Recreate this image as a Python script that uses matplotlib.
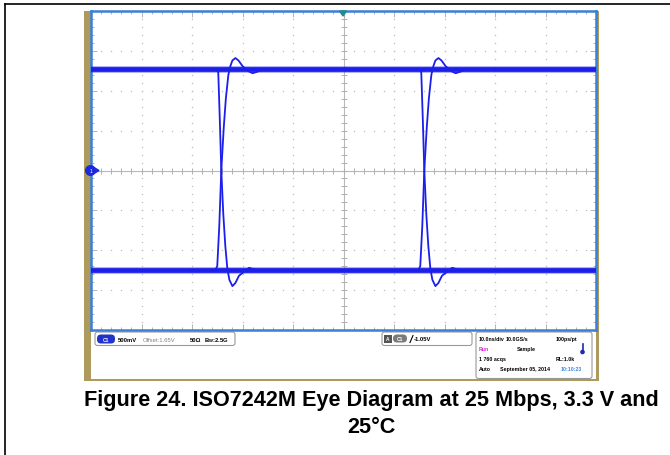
import matplotlib
matplotlib.use('Agg')
import matplotlib.pyplot as plt
from matplotlib.patches import Rectangle, FancyBboxPatch, Circle, Polygon
from matplotlib.ticker import MultipleLocator
import numpy as np

plt.rcParams['font.family'] = ['Liberation Sans', 'DejaVu Sans']

# Eye diagram values read from the scope shot (time in ns, voltage in V)
tCross = [25.8, 66.0]          # edge crossing times
vHigh = 2.92
vLow = 0.40
# rising edge shape, time relative to crossing
riseT = [-1.2, -0.8, -0.4, 0.0, 0.5, 0.9, 1.4, 1.8, 2.2, 2.8, 3.4, 4.2, 5.2, 6.2, 7.2, 8.2]
riseV = [0.40, 0.45, 0.95, 1.65, 2.20, 2.55, 2.85, 2.96, 3.03, 3.06, 3.03, 2.96, 2.90, 2.87, 2.89, 2.92]
# falling edge shape, time relative to crossing
fallT = [-1.0, -0.6, -0.3, 0.0, 0.4, 0.8, 1.2, 1.6, 2.2, 2.8, 3.5, 4.5, 5.5, 6.5, 7.5]
fallV = [2.92, 2.88, 2.30, 1.65, 1.10, 0.70, 0.42, 0.28, 0.20, 0.24, 0.33, 0.38, 0.43, 0.41, 0.40]

# scope settings
voltsPerDiv = 0.5
offset = 1.65
nsPerDiv = 10.0
nDivX = 10
nDivY = 8

traceColor = '#1C1EEA'
frameBlue = '#3A7FD8'
tan = '#AD9A5C'
gridGray = '#BDBDBD'

fig = plt.figure(figsize=(6.7, 4.56), dpi=100)

# background layer in pixel coordinates
bg = fig.add_axes([0, 0, 1, 1])
bg.set_xlim(0, 670)
bg.set_ylim(456, 0)
bg.axis('off')
bg.set_zorder(0)

# outer frame of the page (top and left only)
bg.plot([5, 5], [5, 456], color='black', lw=1.2)
bg.plot([5, 670], [5, 5], color='black', lw=1.2)

# scope screenshot border
bg.add_patch(Rectangle((84, 12), 7, 370, color=tan, lw=0))
bg.add_patch(Rectangle((596, 12), 2.5, 370, color=tan, lw=0))
bg.add_patch(Rectangle((84, 380), 514.5, 2, color=tan, lw=0))

# status bar boxes
def box(x0, y0, x1, y1):
    bg.add_patch(FancyBboxPatch((x0, y0), x1 - x0, y1 - y0,
                                boxstyle='round,pad=0,rounding_size=2.5',
                                fc='white', ec='#9A9A9A', lw=0.8))

def pill(x0, y0, w, h, color, label):
    bg.add_patch(FancyBboxPatch((x0, y0), w, h, boxstyle='round,pad=0,rounding_size=4',
                                fc=color, ec='none'))
    bg.text(x0 + w / 2, y0 + h / 2 + 0.3, label, color='white', fontsize=3.5,
            fontweight='bold', ha='center', va='center')

fs = 4.2
fsR = 3.8
box(95, 333, 235, 346.5)
pill(97, 335.5, 18, 9, '#2233CC', 'C1')
bg.text(118, 340.5, '500mV', fontsize=fs, fontweight='bold', va='center')
bg.text(143, 340.5, 'Offset:1.65V', fontsize=fs, color='#808080', va='center')
bg.text(190, 340.5, '50Ω', fontsize=fs, fontweight='bold', va='center')
bg.text(204, 340.5, r'B$_\mathregular{W}$:2.5G', fontsize=fs, fontweight='bold', va='center')

box(382, 333, 472, 346.5)
bg.add_patch(Rectangle((384, 335.5), 7.5, 8, fc='#555555', ec='none'))
bg.text(387.7, 339.7, 'A', fontsize=3.5, color='white', fontweight='bold', ha='center', va='center')
pill(393, 335.5, 14, 8, '#7A7A7A', 'C1')
bg.plot([410, 413], [343.5, 336.5], color='black', lw=0.8)
bg.text(413.5, 340, '-1.05V', fontsize=fs, fontweight='bold', va='center')

box(476, 333, 592, 379.5)
bg.text(479, 340, '10.0ns/div', fontsize=fsR, fontweight='bold', va='center')
bg.text(506, 340, '10.0GS/s', fontsize=fsR, fontweight='bold', va='center')
bg.text(556, 340, '100ps/pt', fontsize=fsR, fontweight='bold', va='center')
bg.text(479, 349.5, 'Run', fontsize=fsR, fontweight='bold', color='#E020E0', va='center')
bg.text(517, 349.5, 'Sample', fontsize=fsR, fontweight='bold', va='center')
bg.plot([582.5, 582.5], [345, 352], color='#1A2FB0', lw=1.2)
bg.add_patch(Circle((582.5, 353), 1.6, color='#1A2FB0'))
bg.text(479, 359.5, '1 760 acqs', fontsize=fsR, fontweight='bold', va='center')
bg.text(556, 359.5, 'RL:1.0k', fontsize=fsR, fontweight='bold', va='center')
bg.text(479, 370, 'Auto', fontsize=fsR, fontweight='bold', va='center')
bg.text(500, 370, 'September 05, 2014', fontsize=fsR, fontweight='bold', va='center')
bg.text(561, 370, '10:10:23', fontsize=fsR, fontweight='bold', color='#3A8AE0', va='center')

# caption
bg.text(371, 401, 'Figure 24. ISO7242M Eye Diagram at 25 Mbps, 3.3 V and',
        fontsize=15.6, fontweight='bold', ha='center', va='center')
bg.text(371, 428, '25°C', fontsize=15.6, fontweight='bold', ha='center', va='center')

# scope graticule
ax = fig.add_axes([91 / 670, 1 - 331 / 456, (596 - 91) / 670, (331 - 12) / 456])
ax.set_zorder(1)
xMax = nsPerDiv * nDivX
yMin = offset - voltsPerDiv * nDivY / 2
yMax = offset + voltsPerDiv * nDivY / 2
ax.set_xlim(0, xMax)
ax.set_ylim(yMin, yMax)
for s in ax.spines.values():
    s.set_color(frameBlue)
    s.set_linewidth(1.8)
ax.xaxis.set_major_locator(MultipleLocator(nsPerDiv))
ax.xaxis.set_minor_locator(MultipleLocator(nsPerDiv / 5))
ax.set_yticks(np.arange(yMin, yMax + 0.01, voltsPerDiv))
ax.set_yticks(np.arange(yMin, yMax + 0.01, voltsPerDiv / 5), minor=True)
ax.tick_params(which='both', direction='in', top=True, right=True, color='#A8A8A8',
               labelbottom=False, labelleft=False, width=0.6)
ax.tick_params(which='major', length=4)
ax.tick_params(which='minor', length=2.5)

xMajor = np.arange(nsPerDiv, xMax, nsPerDiv)
yMajor = np.arange(yMin + voltsPerDiv, yMax - 0.01, voltsPerDiv)
xMinor = np.arange(0, xMax + 0.01, nsPerDiv / 5)
yMinor = np.arange(yMin, yMax + 0.01, voltsPerDiv / 5)
# dotted grid
for yv in yMajor:
    ax.plot(xMinor, np.full_like(xMinor, yv), ls='none', marker='s', ms=0.9,
            mew=0, color=gridGray, zorder=1)
for xv in xMajor:
    ax.plot(np.full_like(yMinor, xv), yMinor, ls='none', marker='s', ms=0.9,
            mew=0, color=gridGray, zorder=1)
# centre crosshair with ticks
ax.axhline(offset, color='#B8B8B8', lw=0.8, zorder=1)
ax.axvline(xMax / 2, color='#B8B8B8', lw=0.8, zorder=1)
ax.plot(xMinor, np.full_like(xMinor, offset), ls='none', marker='|', ms=4,
        mew=0.7, color='#B0B0B0', zorder=1)
ax.plot(np.full_like(yMinor, xMax / 2), yMinor, ls='none', marker='_', ms=4,
        mew=0.7, color='#B0B0B0', zorder=1)

# signal levels (noise band)
for lvl in [vHigh, vLow]:
    ax.axhline(lvl, color=traceColor, lw=5.0, alpha=0.35, zorder=3)
    ax.axhline(lvl, color=traceColor, lw=3.4, zorder=3)

# edges at each crossing
for tc in tCross:
    ax.plot(np.array(riseT) + tc, riseV, color=traceColor, lw=1.3, zorder=4)
    ax.plot(np.array(fallT) + tc, fallV, color=traceColor, lw=1.3, zorder=4)

# channel marker and trigger marker on top of the frame
overlay = fig.add_axes([0, 0, 1, 1])
overlay.set_xlim(0, 670)
overlay.set_ylim(456, 0)
overlay.axis('off')
overlay.set_zorder(2)
overlay.add_patch(Circle((90.5, 171.5), 4.8, color='#1A28E0'))
overlay.add_patch(Polygon([[94, 168.5], [94, 174.5], [99, 171.5]], color='#1A28E0'))
overlay.text(90.5, 171.8, '1', fontsize=3.5, color='white', ha='center', va='center')
overlay.add_patch(Polygon([[339.5, 12], [346.5, 12], [343, 17]], color='#1E8C8C'))

fig.savefig('out.png', dpi=100)
